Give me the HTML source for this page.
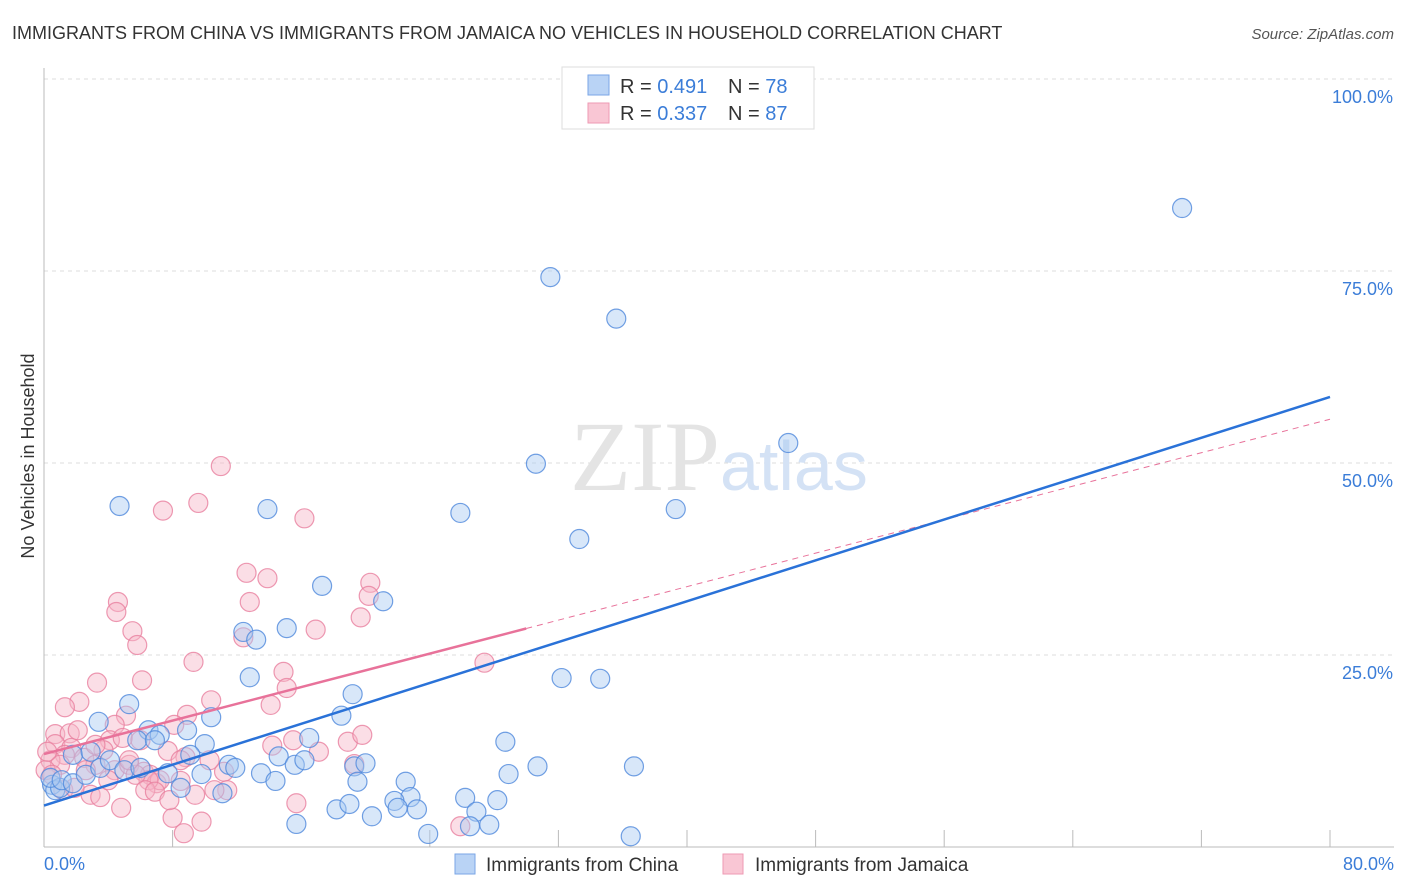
<!DOCTYPE html>
<html><head><meta charset="utf-8"><style>
body{margin:0;background:#fff;font-family:"Liberation Sans",sans-serif;}
svg{display:block}
</style></head><body>
<svg id="chart" width="1406" height="892" xmlns="http://www.w3.org/2000/svg">
<text x="12" y="39" font-size="18" fill="#333">IMMIGRANTS FROM CHINA VS IMMIGRANTS FROM JAMAICA NO VEHICLES IN HOUSEHOLD CORRELATION CHART</text>
<text x="1394" y="39" font-size="15" fill="#555" font-style="italic" text-anchor="end">Source: ZipAtlas.com</text>
<g id="grid"></g>
<text x="720" y="490" font-size="100" font-family="Liberation Serif,serif" fill="#e4e4e4" text-anchor="end">ZIP</text>
<text x="720" y="490" font-size="70" fill="#d4e2f5">atlas</text>
<line x1="44" y1="68" x2="44" y2="847" stroke="#bbb"/>
<line x1="44" y1="847" x2="1394" y2="847" stroke="#bbb"/>
<g id="ticks"></g>
<g id="pts"></g>
<g id="lines"></g>
<text x="34" y="456" font-size="18" fill="#333" text-anchor="middle" transform="rotate(-90 34 456)">No Vehicles in Household</text>
<text x="44" y="870" font-size="18" fill="#3b7dd8">0.0%</text>
<text x="1394" y="870" font-size="18" fill="#3b7dd8" text-anchor="end">80.0%</text>
<g>
<rect x="562" y="67" width="252" height="62" fill="#fff" stroke="#ddd"/>
<rect x="588" y="75" width="21" height="20" fill="#b9d3f5" stroke="#7aa6e6"/>
<rect x="588" y="103" width="21" height="20" fill="#f9c6d4" stroke="#ee9ab3"/>
<text x="620" y="93" font-size="20" fill="#333">R = <tspan fill="#3b7dd8">0.491</tspan><tspan x="728">N = </tspan><tspan fill="#3b7dd8">78</tspan></text>
<text x="620" y="120" font-size="20" fill="#333">R = <tspan fill="#3b7dd8">0.337</tspan><tspan x="728">N = </tspan><tspan fill="#3b7dd8">87</tspan></text>
</g>
<g>
<rect x="455" y="854" width="20" height="20" fill="#b9d3f5" stroke="#7aa6e6"/>
<text x="486" y="871" font-size="19" fill="#333">Immigrants from China</text>
<rect x="723" y="854" width="20" height="20" fill="#f9c6d4" stroke="#ee9ab3"/>
<text x="755" y="871" font-size="19" fill="#333">Immigrants from Jamaica</text>
</g>
</svg>
<script>
const yTicks=[25,50,75,100];
const yTickLabels=["25.0%","50.0%","75.0%","100.0%"];
const xTicks=[8,24,32,40,48,56,64,72,80];
const chinaX=[70.8,31.5,35.6,46.3,30.6,4.7,13.9,25.9,39.3,33.3,17.3,21.1,12.4,13.2,15.1,12.8,32.2,34.6,5.3,19.2,18.5,3.4,10.4,6.5,8.9,7.2,5.8,10.0,6.9,16.5,9.1,28.7,11.5,11.9,14.6,15.6,16.2,19.3,20.0,30.7,36.7,7.7,9.8,13.5,14.4,19.5,22.5,28.9,8.5,11.1,22.8,21.8,22.0,23.2,26.2,18.2,19.0,20.4,26.9,28.2,15.7,23.9,36.5,27.7,26.5,0.5,0.7,1.0,0.4,1.1,1.8,2.6,3.5,4.1,5.0,6.0,1.8,2.9];
const chinaY=[83.2,74.2,68.8,52.6,49.9,44.4,44.0,43.5,44.0,40.1,34.0,32.0,28.0,27.0,28.5,22.1,22.0,21.9,18.6,19.9,17.1,16.3,16.9,15.2,15.2,14.6,13.9,13.4,13.9,14.2,12.0,13.7,10.7,10.3,11.8,10.7,11.3,10.5,10.9,10.5,10.5,9.6,9.5,9.6,8.6,8.5,8.5,9.5,7.7,7.0,6.5,6.0,5.1,4.9,6.4,4.9,5.6,4.0,4.6,6.1,3.0,1.7,1.4,2.9,2.7,8.1,7.4,7.7,9.0,8.7,8.3,9.4,10.3,11.3,10.0,10.3,12.0,12.4];
const jamX=[11.0,7.4,9.6,16.2,12.6,13.9,4.6,4.5,12.8,19.7,20.3,20.2,5.5,5.8,16.9,12.4,9.3,27.4,3.3,6.1,14.9,15.1,10.4,2.2,1.3,14.1,8.9,5.1,4.4,8.1,0.7,1.6,4.1,0.7,1.7,3.7,2.5,4.9,7.7,8.8,18.9,15.5,14.2,17.1,19.8,19.3,1.3,0.4,1.0,3.2,4.4,5.3,6.2,6.6,7.0,7.2,6.5,8.5,11.2,11.4,0.1,0.5,2.9,3.5,4.8,8.0,8.7,9.8,15.7,25.9,1.2,1.9,2.6,5.7,6.3,6.9,4.0,8.5,5.3,3.2,2.1,0.2,7.8,9.4,10.3,6.0,10.6];
const jamY=[49.6,43.8,44.8,42.8,35.7,35.0,31.9,30.6,31.9,29.9,34.4,32.7,28.1,26.3,28.3,27.3,24.1,24.0,21.4,21.7,22.8,20.7,19.1,18.9,18.2,18.5,17.2,17.1,15.9,15.9,14.7,14.8,13.9,13.4,12.9,12.6,11.6,14.2,12.5,11.7,13.7,13.9,13.2,12.4,14.6,10.8,12.0,11.3,10.7,10.7,10.0,10.7,9.8,9.4,8.3,8.7,8.7,8.6,9.8,7.4,10.0,9.4,6.8,6.5,5.1,3.8,1.8,3.3,5.7,2.7,7.4,7.7,10.0,9.4,7.4,7.2,8.7,11.3,11.3,13.3,15.2,12.4,6.1,6.8,11.3,13.9,7.4];
const chinaFit=[5.4,0.665];
const jamFit=[12.1,0.545,30];
const NS="http://www.w3.org/2000/svg";
const X=v=>44+v/80*1286, Y=v=>847-v/100*768;
function mk(tag,attrs,parent){const e=document.createElementNS(NS,tag);for(const k in attrs)e.setAttribute(k,attrs[k]);parent.appendChild(e);return e;}
const grid=document.getElementById('grid');
yTicks.forEach((t,i)=>{
  const l=mk('line',{x1:44,x2:1394,y1:Y(t),y2:Y(t),stroke:'#ddd','stroke-dasharray':'4,4'},grid);
  
  
  const tx=mk('text',{x:1393,y:Y(t)+24,'font-size':18,fill:'#3b7dd8','text-anchor':'end'},grid);
  tx.textContent=yTickLabels[i];
  
  
});
const ticks=document.getElementById('ticks');
xTicks.forEach(t=>{
  const l=mk('line',{x1:X(t),x2:X(t),y1:830,y2:847,stroke:'#bbb'},ticks);
  
  
});
const pts=document.getElementById('pts');
function draw(xs,ys,fill,stroke,name){
  xs.forEach((x,i)=>{
    const c=mk('circle',{cx:X(x),cy:Y(ys[i]),r:9.5,fill:fill,'fill-opacity':0.45,stroke:stroke,'stroke-opacity':0.8,'stroke-width':1.2},pts);
    
    
  });
}
draw(jamX,jamY,'#f6b5c8','#e9809f','point-jamaica');
draw(chinaX,chinaY,'#a9c9f2','#4f88dc','point-china');
const lines=document.getElementById('lines');
let a=mk('line',{x1:X(jamFit[2]),y1:Y(jamFit[0]+jamFit[1]*jamFit[2]),x2:X(80),y2:Y(jamFit[0]+jamFit[1]*80),stroke:'#e8729a','stroke-width':1,'stroke-dasharray':'6,5'},lines);


let b=mk('line',{x1:X(0),y1:Y(jamFit[0]),x2:X(jamFit[2]),y2:Y(jamFit[0]+jamFit[1]*jamFit[2]),stroke:'#e8729a','stroke-width':2.5},lines);


let c=mk('line',{x1:X(0),y1:Y(chinaFit[0]),x2:X(80),y2:Y(chinaFit[0]+chinaFit[1]*80),stroke:'#2a72d8','stroke-width':2.5},lines);


</script>
</body></html>
